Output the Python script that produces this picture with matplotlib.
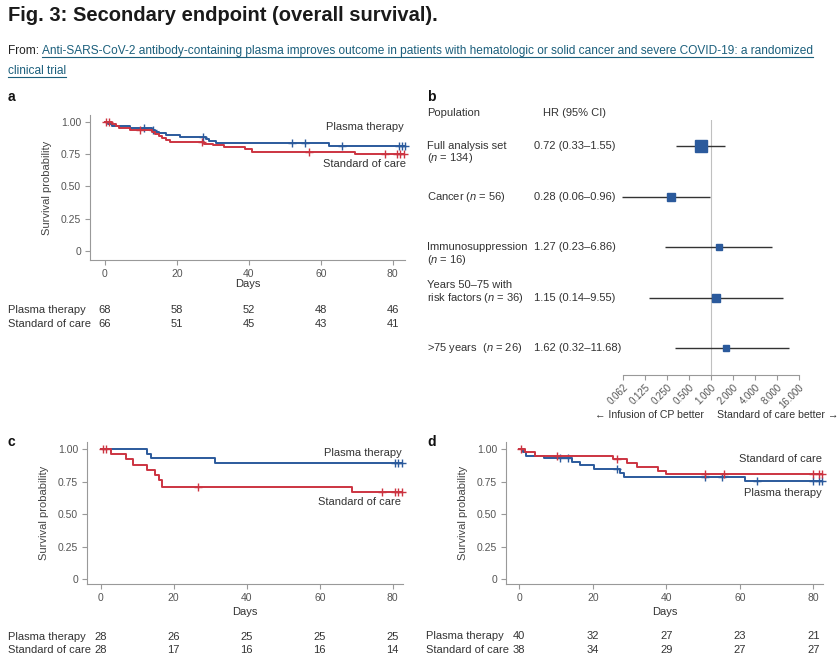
import numpy as np
import matplotlib
matplotlib.use('Agg')
import matplotlib.pyplot as plt
from matplotlib import transforms
from matplotlib.lines import Line2D

plt.rcParams['font.family'] = ['Liberation Sans', 'DejaVu Sans']
plt.rcParams['mathtext.fontset'] = 'custom'
plt.rcParams['mathtext.rm'] = 'Liberation Sans'
plt.rcParams['mathtext.it'] = 'Liberation Sans:italic'

W, H = 839, 655
BLUE = '#2b5a9c'
RED = '#cc3441'
TXT = '#333333'
GREY = '#999999'
LINK = '#1b5f7c'

# ---- data -------------------------------------------------------------
day_ticks = [0, 20, 40, 60, 80]
surv_ticks = [0, 0.25, 0.5, 0.75, 1.0]
surv_ticklabels = ['0', '0.25', '0.50', '0.75', '1.00']

# panel a: all patients
a_pt_t = [1, 2, 7, 13, 14, 15, 17, 21, 28, 29, 31, 62.3]
a_pt_s = [0.985, 0.971, 0.956, 0.941, 0.926, 0.912, 0.897, 0.882, 0.867, 0.852, 0.837, 0.817]
a_pt_c = [11, 13.5, 27.4, 51.9, 55.6, 65.8, 81.6, 82.5, 83.4]
a_soc_t = [2, 3, 4, 7, 13, 14, 15, 16, 17, 18, 27.5, 30, 33, 39, 41, 69.5]
a_soc_s = [0.985, 0.970, 0.955, 0.939, 0.924, 0.909, 0.894, 0.879, 0.864, 0.848,
           0.833, 0.818, 0.803, 0.787, 0.771, 0.755]
a_soc_c = [0.4, 1.3, 9.8, 27, 56.8, 77.9, 81.1, 82, 83.1]
a_risk_pt = [68, 58, 52, 48, 46]
a_risk_soc = [66, 51, 45, 43, 41]

# panel c
c_pt_t = [12.6, 13.8, 31.3]
c_pt_s = [0.964, 0.929, 0.893]
c_pt_c = [80.6, 81.5, 82.5]
c_soc_t = [2.8, 6.9, 8.9, 12.6, 14.9, 16, 16.9, 68.8]
c_soc_s = [0.964, 0.92, 0.88, 0.84, 0.80, 0.76, 0.71, 0.667]
c_soc_c = [0.7, 1.5, 26.7, 77, 80.6, 81.5, 82.5]
c_risk_pt = [28, 26, 25, 25, 25]
c_risk_soc = [28, 17, 16, 16, 14]

# panel d
d_pt_t = [0.9, 1.8, 6.7, 14.3, 16.6, 20.2, 27.4, 28.5, 61.4]
d_pt_s = [0.975, 0.95, 0.928, 0.903, 0.877, 0.844, 0.818, 0.787, 0.756]
d_pt_c = [11, 13.3, 26.5, 50.5, 55, 64.6, 80, 81.4, 82.3]
d_soc_t = [1.6, 4.3, 25.6, 29.3, 32, 37.8, 40]
d_soc_s = [0.974, 0.95, 0.92, 0.895, 0.864, 0.833, 0.81]
d_soc_c = [0.4, 10.2, 26.5, 50.5, 55.6, 80, 81.4, 82.3]
d_risk_pt = [40, 32, 27, 23, 21]
d_risk_soc = [38, 34, 29, 27, 27]

# panel b: forest plot
pop_labels = ['Full analysis set\n($\\it{n}$ = 134)',
              'Cancer ($\\it{n}$ = 56)',
              'Immunosuppression\n($\\it{n}$ = 16)',
              'Years 50\u201375 with\nrisk factors ($\\it{n}$ = 36)',
              '>75 years  ($\\it{n}$ = 26)']
pop_anchor = [0, 0, 0, 1, 0]   # which text line sits on the row
hr = [0.72, 0.28, 1.27, 1.15, 1.62]
hr_lo = [0.33, 0.06, 0.23, 0.14, 0.32]
hr_hi = [1.55, 0.96, 6.86, 9.55, 11.68]
box_sizes = [9.0, 6.0, 4.1, 5.3, 4.8]
hr_ticks = [0.0625, 0.125, 0.25, 0.5, 1, 2, 4, 8, 16]
hr_ticklabels = ['0.062', '0.125', '0.250', '0.500', '1.000', '2.000', '4.000', '8.000', '16.000']


def rect(x0, y0, x1, y1):
    return [x0 / W, 1 - y1 / H, (x1 - x0) / W, (y1 - y0) / H]


def fy(y):
    return 1 - y / H


fig = plt.figure(figsize=(W / 100, H / 100), dpi=100)

# ---- header -------------------------------------------------------------
fig.text(8 / W, fy(21), 'Fig. 3: Secondary endpoint (overall survival).',
         fontsize=14.5, weight='bold', color='#1a1a1a', va='baseline')
t_from = fig.text(8 / W, fy(54), 'From: ', fontsize=8.6, color='#222222', va='baseline')
fig.canvas.draw()
r = fig.canvas.get_renderer()
x_link = t_from.get_window_extent(r).x1
link1 = fig.text(x_link / W, fy(54), 'Anti-SARS-CoV-2 antibody-containing plasma improves outcome in patients '
                 'with hematologic or solid cancer and severe COVID-19: a randomized',
                 fontsize=8.6, color=LINK, va='baseline')
link2 = fig.text(8 / W, fy(74), 'clinical trial', fontsize=8.6, color=LINK, va='baseline')
fig.canvas.draw()
for t, yb in [(link1, 54), (link2, 74)]:
    bb = t.get_window_extent(r)
    fig.add_artist(Line2D([bb.x0 / W, bb.x1 / W], [fy(yb + 2.5), fy(yb + 2.5)], color=LINK, lw=0.8,
                          transform=fig.transFigure))


# ---- KM panels ------------------------------------------------------------
def km_panel(ax, curves, xlim, ylim):
    for times, surv, cens, color in curves:
        end = max(cens)
        xs = [0] + list(times) + [end]
        ys = [1.0] + list(surv) + [surv[-1]]
        ax.step(xs, ys, where='post', color=color, lw=1.4, clip_on=False)
        lev = np.array([1.0] + list(surv))
        cy = lev[np.searchsorted(times, cens, side='right')]
        ax.plot(cens, cy, '+', color=color, ms=6, mew=1.0, clip_on=False)
    ax.set_xlim(*xlim)
    ax.set_ylim(*ylim)
    ax.set_xticks(day_ticks)
    ax.set_yticks(surv_ticks)
    ax.set_yticklabels(surv_ticklabels)
    for s in ['top', 'right']:
        ax.spines[s].set_visible(False)
    for s in ['left', 'bottom']:
        ax.spines[s].set_color(GREY)
        ax.spines[s].set_linewidth(0.8)
    ax.tick_params(length=3.5, width=0.8, color=GREY, labelcolor='#555555', labelsize=7.5, pad=3)
    ax.text(-0.137, 0.5, 'Survival probability', transform=ax.transAxes, rotation=90,
            ha='center', va='center', fontsize=8, color='#444444')


def risk_table(ax, x_label, y_rows, risk_pt, risk_soc):
    tr = transforms.blended_transform_factory(ax.transData, fig.transFigure)
    for name, vals, y in [('Plasma therapy', risk_pt, y_rows[0]), ('Standard of care', risk_soc, y_rows[1])]:
        fig.text(x_label / W, fy(y), name, fontsize=8, color=TXT, va='center')
        for d, v in zip(day_ticks, vals):
            ax.text(d, fy(y), str(v), transform=tr, ha='center', va='center', fontsize=8, color=TXT)


ax_a = fig.add_axes(rect(90, 115, 405, 260))
km_panel(ax_a, [(a_pt_t, a_pt_s, a_pt_c, BLUE), (a_soc_t, a_soc_s, a_soc_c, RED)],
         (-4.1, 83.4), (-0.07, 1.054))
ax_a.text(0.5, -24 / 145, 'Days', transform=ax_a.transAxes, ha='center', va='center', fontsize=8, color=TXT)
ax_a.text(0.997, 0.917, 'Plasma therapy', transform=ax_a.transAxes, ha='right', va='center', fontsize=8, color=TXT)
ax_a.text(1.003, 0.662, 'Standard of care', transform=ax_a.transAxes, ha='right', va='center', fontsize=8, color=TXT)
risk_table(ax_a, 8, (310, 324), a_risk_pt, a_risk_soc)

ax_c = fig.add_axes(rect(87, 442, 403, 584))
km_panel(ax_c, [(c_pt_t, c_pt_s, c_pt_c, BLUE), (c_soc_t, c_soc_s, c_soc_c, RED)],
         (-3.75, 82.8), (-0.038, 1.054))
ax_c.text(0.5, -28 / 142, 'Days', transform=ax_c.transAxes, ha='center', va='center', fontsize=8, color=TXT)
ax_c.text(0.995, 0.925, 'Plasma therapy', transform=ax_c.transAxes, ha='right', va='center', fontsize=8, color=TXT)
ax_c.text(0.995, 0.58, 'Standard of care', transform=ax_c.transAxes, ha='right', va='center', fontsize=8, color=TXT)
risk_table(ax_c, 8, (637, 650), c_risk_pt, c_risk_soc)

ax_d = fig.add_axes(rect(506, 442, 823, 584))
km_panel(ax_d, [(d_pt_t, d_pt_s, d_pt_c, BLUE), (d_soc_t, d_soc_s, d_soc_c, RED)],
         (-3.6, 82.6), (-0.038, 1.054))
ax_d.text(0.5, -28 / 142, 'Days', transform=ax_d.transAxes, ha='center', va='center', fontsize=8, color=TXT)
ax_d.text(0.997, 0.878, 'Standard of care', transform=ax_d.transAxes, ha='right', va='center', fontsize=8, color=TXT)
ax_d.text(0.997, 0.64, 'Plasma therapy', transform=ax_d.transAxes, ha='right', va='center', fontsize=8, color=TXT)
risk_table(ax_d, 426, (636, 650), d_risk_pt, d_risk_soc)

# ---- forest plot ----------------------------------------------------------
ax_b = fig.add_axes(rect(623.3, 120, 799, 375))
rows = np.arange(len(hr))
ax_b.set_xscale('log', base=2)
ax_b.set_xlim(hr_ticks[0], hr_ticks[-1])
ax_b.set_ylim(4.53, -0.514)
ax_b.axvline(1, color='#c0c0c0', lw=0.8, zorder=1)
ax_b.hlines(rows, hr_lo, hr_hi, color='#333333', lw=1.0, clip_on=False, zorder=2)
for i in rows:
    ax_b.plot(hr[i], i, 's', ms=box_sizes[i], color=BLUE, zorder=3)
ax_b.set_xticks(hr_ticks)
ax_b.set_xticklabels(hr_ticklabels, rotation=45, ha='right', rotation_mode='anchor', fontsize=7, color='#555555')
ax_b.xaxis.set_minor_locator(matplotlib.ticker.NullLocator())
ax_b.set_yticks([])
for s in ['top', 'right', 'left']:
    ax_b.spines[s].set_visible(False)
ax_b.spines['bottom'].set_color(GREY)
ax_b.spines['bottom'].set_linewidth(0.8)
ax_b.tick_params(axis='x', length=3.5, width=0.8, color=GREY, pad=2)

tr_b = transforms.blended_transform_factory(fig.transFigure, ax_b.transData)
for i, lab in enumerate(pop_labels):
    for j, line in enumerate(lab.split('\n')):
        off = transforms.offset_copy(tr_b, fig=fig, y=-(j - pop_anchor[i]) * 12.5, units='dots')
        fig.text(427 / W, i, line, transform=off, fontsize=8, color=TXT, va='center')
    fig.text(534 / W, i, f'{hr[i]:.2f} ({hr_lo[i]:.2f}\u2013{hr_hi[i]:.2f})', transform=tr_b,
             fontsize=8, color=TXT, va='center')

fig.text(427 / W, fy(113), 'Population', fontsize=8, color=TXT, va='center')
fig.text(543 / W, fy(113), 'HR (95% CI)', fontsize=8, color=TXT, va='center')
fig.text(595 / W, fy(415), '\u2190 Infusion of CP better', fontsize=7.6, color=TXT, va='center')
fig.text(717 / W, fy(415), 'Standard of care better \u2192', fontsize=7.6, color=TXT, va='center')

# panel letters
for letter, x, y in [('a', 8, 97), ('b', 427, 97), ('c', 8, 442), ('d', 427, 442)]:
    fig.text(x / W, fy(y), letter, fontsize=10, weight='bold', color='#111111', va='center')

fig.savefig('out.png', dpi=100)
